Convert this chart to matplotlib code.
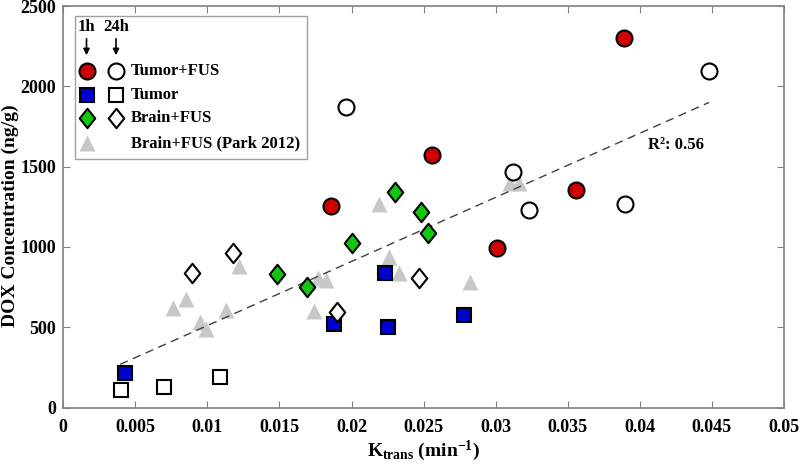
import matplotlib
matplotlib.use("Agg")
import matplotlib.pyplot as plt
from matplotlib.patches import Rectangle, FancyArrowPatch
from matplotlib.path import Path

plt.rcParams['font.family'] = ['Liberation Serif', 'DejaVu Serif']
plt.rcParams['font.weight'] = 'bold'
plt.rcParams['mathtext.fontset'] = 'custom'
plt.rcParams['mathtext.rm'] = 'Liberation Serif:bold'
plt.rcParams['mathtext.bf'] = 'Liberation Serif:bold'
plt.rcParams['mathtext.it'] = 'Liberation Serif:bold'

# Tumor+FUS
tfus_1h_x = [0.0186, 0.0256, 0.0301, 0.0356, 0.0389]
tfus_1h_y = [1255, 1575, 995, 1354, 2299]
tfus_24h_x = [0.0196, 0.0312, 0.0323, 0.0390, 0.0448]
tfus_24h_y = [1873, 1465, 1228, 1265, 2097]
# Tumor
tumor_1h_x = [0.0043, 0.0188, 0.0223, 0.0225, 0.0278]
tumor_1h_y = [215, 520, 836, 499, 576]
tumor_24h_x = [0.0040, 0.0070, 0.0109]
tumor_24h_y = [110, 130, 192]
# Brain+FUS
bfus_1h_x = [0.0148, 0.0169, 0.0200, 0.0230, 0.0248, 0.0253]
bfus_1h_y = [829, 752, 1022, 1344, 1219, 1085]
bfus_24h_x = [0.0089, 0.0118, 0.0190, 0.0247]
bfus_24h_y = [839, 960, 597, 804]
# Brain+FUS (Park 2012)
park_x = [0.0076, 0.0085, 0.0095, 0.0099, 0.0113, 0.0122, 0.0174, 0.0177,
          0.0182, 0.0219, 0.0226, 0.0233, 0.0282, 0.0310, 0.0316]
park_y = [618, 674, 534, 487, 607, 881, 601, 804, 794, 1265, 939, 836,
          783, 1396, 1396]
# linear fit
fit_x = [0.00395, 0.0448]
fit_y = [269, 1900]
r2_text = 'R²: 0.56'

diamond = Path([(0, 1), (0.8, 0), (0, -1), (-0.8, 0), (0, 1)],
               [Path.MOVETO, Path.LINETO, Path.LINETO, Path.LINETO, Path.CLOSEPOLY])

red = '#d00000'
blue = '#0000d0'
green = '#10c810'
gray = '#c8c8c8'
frame = '#808080'

fig = plt.figure(figsize=(8, 4.69), dpi=100)
ax = fig.add_axes([0.079, 0.131, 0.901, 0.856])

ax.plot(park_x, park_y, '^', ms=11, color=gray, mec='none', zorder=2)
ax.plot(fit_x, fit_y, '--', color='#404040', lw=1, dashes=(6, 4), zorder=3)

mk = dict(ls='none', mec='black', mew=1.5, zorder=4)
ax.plot(tfus_1h_x, tfus_1h_y, 'o', ms=11.5, mfc=red, **mk)
ax.plot(tfus_24h_x, tfus_24h_y, 'o', ms=11.5, mfc='white', **mk)
ax.plot(tumor_1h_x, tumor_1h_y, 's', ms=10, mfc=blue, **mk)
ax.plot(tumor_24h_x, tumor_24h_y, 's', ms=10, mfc='white', **mk)
ax.plot(bfus_1h_x, bfus_1h_y, marker=diamond, ms=14, mfc=green, **mk)
ax.plot(bfus_24h_x, bfus_24h_y, marker=diamond, ms=14, mfc='white', **mk)

ax.text(0.0406, 1635, r2_text, fontsize=12, fontweight='bold', ha='left', va='center')

ax.set_xlim(0, 0.05)
ax.set_ylim(0, 2500)
ax.set_xticks([0, 0.005, 0.01, 0.015, 0.02, 0.025, 0.03, 0.035, 0.04, 0.045, 0.05])
ax.set_xticklabels(['0', '0.005', '0.01', '0.015', '0.02', '0.025', '0.03',
                    '0.035', '0.04', '0.045', '0.05'])
ax.set_yticks([0, 500, 1000, 1500, 2000, 2500])
for sp in ax.spines.values():
    sp.set_color(frame)
    sp.set_linewidth(1.2)
ax.tick_params(axis='both', direction='in', top=True, right=True, length=5,
               color=frame, labelsize=13)
ax.tick_params(axis='x', pad=8)
ax.tick_params(axis='y', pad=5)
for lab in ax.get_xticklabels() + ax.get_yticklabels():
    lab.set_fontweight('bold')

ax.set_xlabel(r'K$_{\mathrm{trans}}$ (min$^{\mathrm{-1}}$)', fontsize=14, fontweight='bold', labelpad=2)
ax.set_ylabel('DOX Concentration (ng/g)', fontsize=14, fontweight='bold')
ax.yaxis.set_label_coords(-0.061, 0.477)

# legend, drawn by hand in figure pixels
def fx(px):
    return px / 800.0

def fy(py):
    return 1 - py / 469.0

tr = fig.transFigure
fig.patches.append(Rectangle((fx(75), fy(159)), fx(306.5) - fx(75), fy(16.5) - fy(159),
                             transform=tr, facecolor='white', edgecolor='#a0a0a0', lw=1, zorder=5))
fs = 12
fig.text(fx(86.5), fy(27), '1h', fontsize=fs, fontweight='bold', ha='center', va='center', zorder=6)
fig.text(fx(116), fy(27), '24h', fontsize=fs, fontweight='bold', ha='center', va='center', zorder=6)
for xa in (86.5, 116):
    fig.add_artist(FancyArrowPatch(
        (fx(xa), fy(36)), (fx(xa), fy(58)), transform=tr, arrowstyle='-|>',
        mutation_scale=9, color='black', lw=1.2, zorder=6))

rows = [(70.5, 'o', 11.5, red, 'Tumor+FUS'),
        (95, 's', 10, blue, 'Tumor'),
        (118.5, diamond, 14, green, 'Brain+FUS')]
for ry, m, s, c, lab in rows:
    fig.add_artist(plt.Line2D([fx(86.5)], [fy(ry)], marker=m, ms=s, mfc=c, mec='black',
                              mew=1.5, ls='none', transform=tr, zorder=6))
    fig.add_artist(plt.Line2D([fx(116)], [fy(ry)], marker=m, ms=s, mfc='white', mec='black',
                              mew=1.5, ls='none', transform=tr, zorder=6))
    fig.text(fx(131), fy(ry), lab, fontsize=fs, fontweight='bold', ha='left', va='center', zorder=6)
fig.add_artist(plt.Line2D([fx(86.5)], [fy(143.5)], marker='^', ms=11, color=gray, mec='none',
                          ls='none', transform=tr, zorder=6))
fig.text(fx(131), fy(143.5), 'Brain+FUS (Park 2012)', fontsize=fs, fontweight='bold',
         ha='left', va='center', zorder=6)

plt.savefig('out.png', dpi=100)
